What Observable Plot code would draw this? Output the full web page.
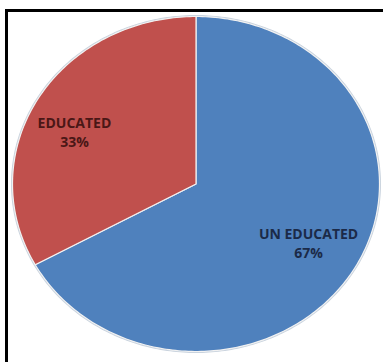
<!DOCTYPE html>
<html>
<head>
<meta charset="utf-8">
<script src="https://cdn.jsdelivr.net/npm/d3@7"></script>
<script src="https://cdn.jsdelivr.net/npm/@observablehq/plot@0.6"></script>
<style>
  html, body { margin: 0; padding: 0; background: #fff; overflow: hidden; width: 383px; height: 362px; }
  #frame { position: absolute; left: 5px; top: 9px; width: 400px; height: 400px; border: 3px solid #000; box-sizing: border-box; }
  #chart { position: absolute; left: 0; top: 0; }
</style>
</head>
<body>
<div id="frame"></div>
<div id="chart"></div>
<script>
// Data
const categories = ["UN EDUCATED", "EDUCATED"];
const percents = [67, 33];
const colors = ["#4F81BD", "#C0504D"];
const labelColors = ["#1b2a48", "#4a1716"];

// Build slice polygons from the data (clockwise from 12 o'clock)
const total = d3.sum(percents);
const slices = [];
let acc = 0;
categories.forEach((c, i) => {
  const a0 = acc / total * 2 * Math.PI;
  acc += percents[i];
  const a1 = acc / total * 2 * Math.PI;
  slices.push({category: c, value: percents[i], a0, a1, mid: (a0 + a1) / 2, color: colors[i], labelColor: labelColors[i]});
});

const pts = [];
for (const s of slices) {
  pts.push({category: s.category, x: 0, y: 0});
  const n = Math.max(2, Math.ceil((s.a1 - s.a0) / (Math.PI / 180)));
  for (let k = 0; k <= n; k++) {
    const a = s.a0 + (s.a1 - s.a0) * k / n;
    pts.push({category: s.category, x: Math.sin(a), y: Math.cos(a)});
  }
  pts.push({category: s.category, x: 0, y: 0});
}

const outline = d3.range(0, 361).map(d => ({x: Math.sin(d * Math.PI / 180), y: Math.cos(d * Math.PI / 180)}));

const labels = slices.map(s => ({
  text: s.category + "\n" + s.value + "%",
  x: 0.7 * Math.sin(s.mid),
  y: 0.7 * Math.cos(s.mid),
  color: s.labelColor,
  category: s.category
}));

const font = {fontSize: 14, fontWeight: "bold", fontFamily: "Open Sans", lineHeight: 1.36};

const plot = Plot.plot({
  width: 383,
  height: 362,
  margin: 0,
  x: {domain: [-1, 1], range: [12, 379], axis: null},
  y: {domain: [-1, 1], range: [351, 16], axis: null},
  color: {domain: categories, range: colors},
  marks: [
    Plot.line(outline, {x: "x", y: "y", stroke: "#c9d3de", strokeWidth: 3, fill: "none"}),
    Plot.line(pts, {x: "x", y: "y", z: "category", fill: "category", stroke: "#f2f2f2", strokeWidth: 1.2, strokeLinejoin: "round"}),
    Plot.text(labels.filter(d => d.category === "EDUCATED"), {
      x: "x", y: "y", text: "text", fill: "color", dx: -11, dy: 7.5, ...font
    }),
    Plot.text(labels.filter(d => d.category === "UN EDUCATED"), {
      x: "x", y: "y", text: "text", fill: "color", dx: 2, dy: -1, ...font
    })
  ]
});
plot.style.background = "transparent";
document.getElementById("chart").appendChild(plot);
</script>
</body>
</html>
